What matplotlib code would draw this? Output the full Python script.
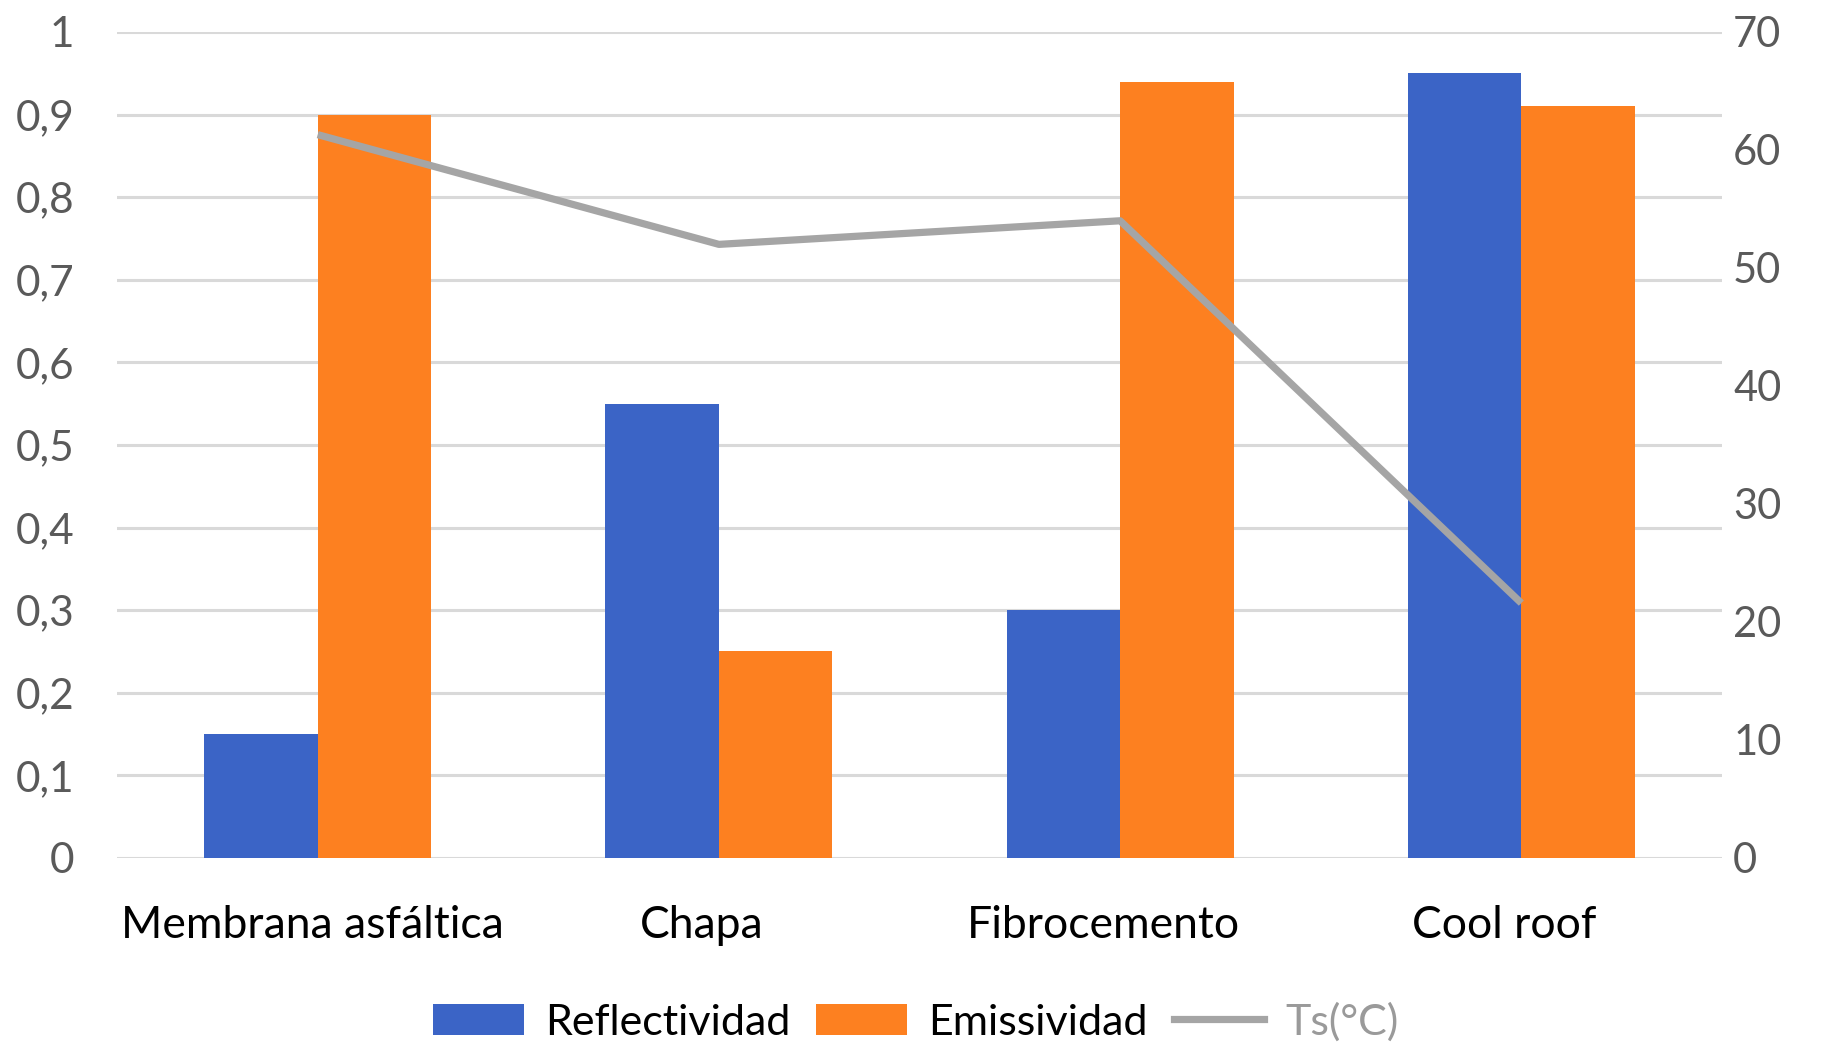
import matplotlib
matplotlib.use("Agg")
import matplotlib.pyplot as plt
import matplotlib.transforms as mtransforms
import numpy as np
from matplotlib.patches import Patch
from matplotlib.lines import Line2D

# Roofing materials and their measured properties
categories = ["Membrana asfáltica", "Chapa", "Fibrocemento", "Cool roof"]
reflectividad = [0.15, 0.55, 0.30, 0.95]
emissividad = [0.90, 0.25, 0.94, 0.91]
ts_celsius = [61.3, 52.0, 54.0, 21.6]

left_ticks = [0, 0.1, 0.2, 0.3, 0.4, 0.5, 0.6, 0.7, 0.8, 0.9, 1.0]
left_labels = ["0", "0,1", "0,2", "0,3", "0,4", "0,5", "0,6", "0,7", "0,8", "0,9", "1"]
right_ticks = [0, 10, 20, 30, 40, 50, 60, 70]
right_labels = ["0", "10", "20", "30", "40", "50", "60", "70"]

BLUE = "#3B64C6"
ORANGE = "#FD8020"
GRAY = "#A5A5A5"
TICK_GRAY = "#5A5A5A"

fig = plt.figure(figsize=(18.21, 10.48), dpi=100)
ax = fig.add_axes([0.0643, 0.1813, 0.8813, 0.7882])

x = np.arange(len(categories))
w = 0.283
ax.bar(x - w / 2, reflectividad, width=w, color=BLUE, zorder=2)
ax.bar(x + w / 2, emissividad, width=w, color=ORANGE, zorder=2)

ax.set_xlim(-0.5, len(categories) - 0.5)
ax.set_ylim(0, 1.0)
ax.set_yticks(left_ticks)
ax.set_yticklabels(left_labels)
ax.yaxis.grid(True, color="#D9D9D9", linewidth=2.2)
ax.set_axisbelow(True)
for s in ax.spines.values():
    s.set_visible(False)
ax.tick_params(axis="y", length=0, pad=31, labelsize=30.5, labelcolor=TICK_GRAY)
for t in ax.get_yticklabels():
    t.set_fontfamily("Lato")
ax.set_xticks(x)
ax.set_xticklabels(categories)
ax.tick_params(axis="x", length=0, pad=34, labelsize=32, labelcolor="black")
# small horizontal nudges (pixels) for the category labels
label_nudge_px = [-5, -17, -17, -17]
for t, dx in zip(ax.get_xticklabels(), label_nudge_px):
    t.set_fontfamily("Lato")
    t.set_transform(t.get_transform()
                    + mtransforms.ScaledTranslation(dx / 100, 0, fig.dpi_scale_trans))

ax2 = ax.twinx()
ax2.plot(x, ts_celsius, color=GRAY, linewidth=5.2, solid_capstyle="butt", zorder=3)
ax2.set_ylim(0, 70)
ax2.set_yticks(right_ticks)
ax2.set_yticklabels(right_labels)
for s in ax2.spines.values():
    s.set_visible(False)
ax2.tick_params(axis="y", length=0, pad=8, labelsize=30, labelcolor=TICK_GRAY)
for t in ax2.get_yticklabels():
    t.set_fontfamily("Lato")

handles = [
    Patch(facecolor=BLUE, edgecolor="none"),
    Patch(facecolor=ORANGE, edgecolor="none"),
    Line2D([0], [0], color=GRAY, linewidth=5.2),
]
labels = ["Reflectividad", "Emissividad", "Ts(°C)"]
leg = fig.legend(handles, labels, loc="center", bbox_to_anchor=(0.503, 0.025),
                 ncol=3, frameon=False, handlelength=2.1, handleheight=0.75,
                 handletextpad=0.5, columnspacing=0.6,
                 prop={"family": "Lato", "size": 31})
leg.get_texts()[2].set_color("#9A9A9A")

fig.savefig("out.png", dpi=100)
